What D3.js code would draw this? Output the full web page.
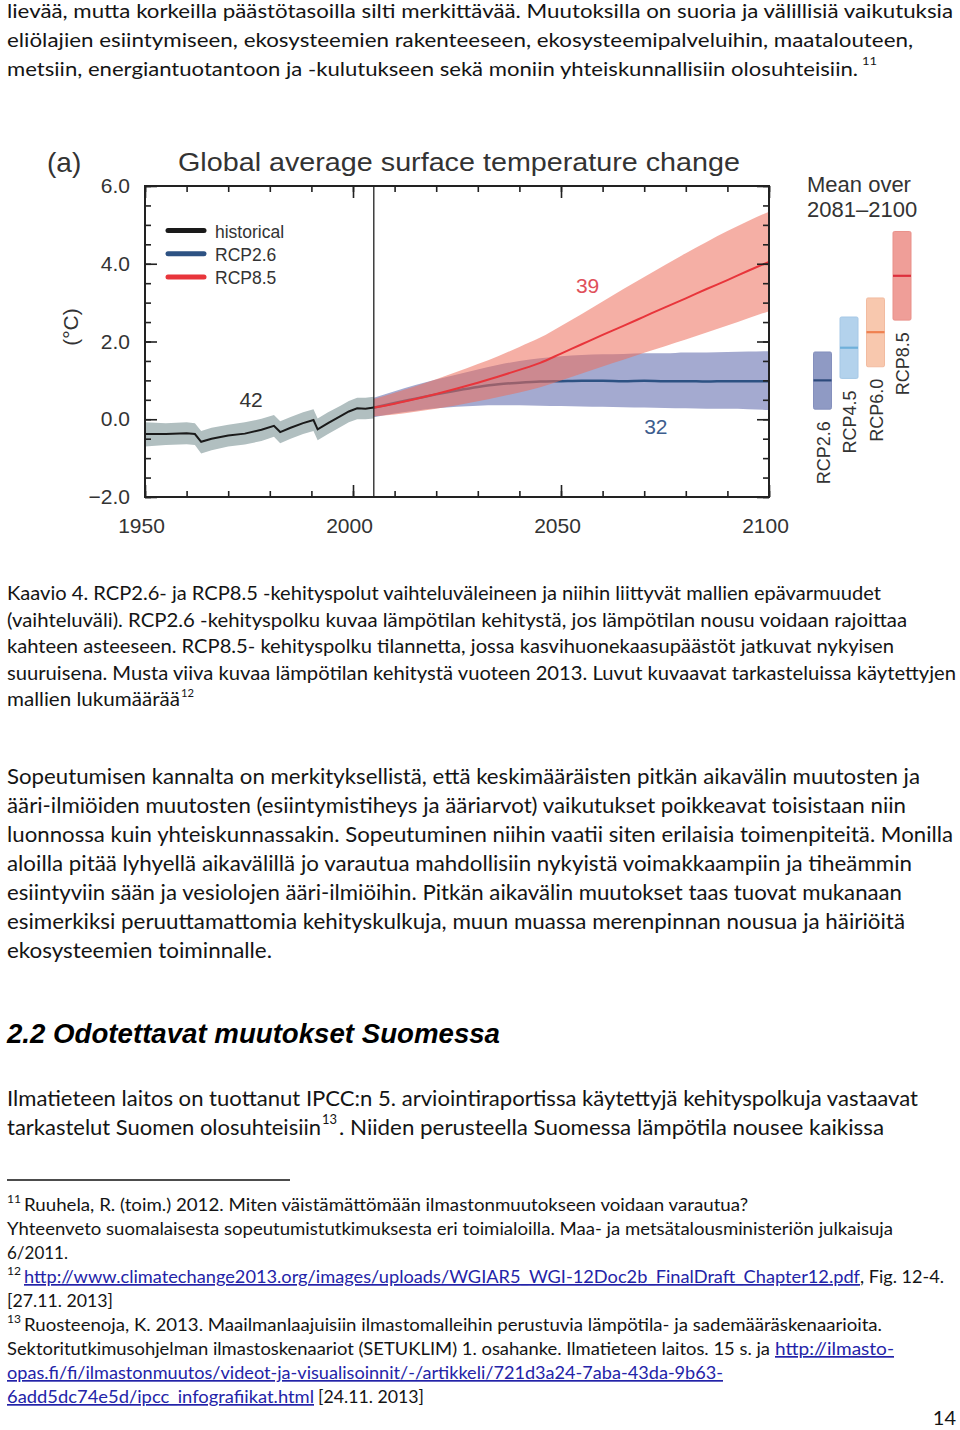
<!DOCTYPE html>
<html>
<head>
<meta charset="utf-8">
<script src="https://cdn.jsdelivr.net/npm/d3@7"></script>
<style>
  html, body { margin: 0; padding: 0; background: #fff; }
  svg { display: block; }
</style>
</head>
<body>
<script>
// ---------------- DATA ----------------
const histYears = [1950,1955,1960,1962,1963.5,1966,1970,1974,1978,1981,1982.5,1985,1988,1990.5,1991.5,1994,1997,1999,2001,2003,2005];
const histMean  = [-0.38,-0.38,-0.36,-0.38,-0.58,-0.50,-0.42,-0.37,-0.27,-0.17,-0.33,-0.22,-0.10,-0.02,-0.26,-0.10,0.08,0.20,0.28,0.27,0.30];
const histHigh  = [-0.08,-0.10,-0.08,-0.10,-0.30,-0.22,-0.14,-0.08,0.01,0.11,-0.05,0.06,0.18,0.26,0.02,0.18,0.35,0.47,0.55,0.55,0.58];
const histLow   = [-0.70,-0.66,-0.64,-0.66,-0.88,-0.80,-0.70,-0.65,-0.56,-0.45,-0.62,-0.50,-0.38,-0.30,-0.54,-0.38,-0.20,-0.08,0.00,0.00,0.02];

const projYears = [2005,2010,2015,2020,2025,2030,2035,2040,2045,2050,2055,2060,2065,2070,2075,2080,2085,2090,2095,2100];
const rcp26Mean = [0.30,0.42,0.53,0.64,0.74,0.83,0.90,0.94,0.97,0.98,0.99,0.99,0.98,0.99,0.98,0.98,0.97,0.98,0.98,0.98];
const rcp26High = [0.55,0.72,0.88,1.02,1.15,1.28,1.40,1.50,1.57,1.62,1.65,1.67,1.68,1.70,1.70,1.72,1.72,1.73,1.74,1.75];
const rcp26Low  = [0.05,0.15,0.22,0.28,0.32,0.35,0.36,0.36,0.35,0.34,0.33,0.32,0.31,0.30,0.29,0.28,0.27,0.27,0.26,0.24];
const rcp85Mean = [0.30,0.40,0.52,0.65,0.79,0.94,1.10,1.27,1.45,1.69,1.93,2.17,2.40,2.64,2.88,3.11,3.35,3.58,3.82,4.05];
const rcp85High = [0.52,0.68,0.85,1.03,1.22,1.42,1.63,1.86,2.10,2.40,2.71,3.03,3.35,3.66,3.97,4.27,4.56,4.84,5.10,5.34];
const rcp85Low  = [0.08,0.12,0.19,0.27,0.36,0.46,0.57,0.69,0.82,1.00,1.18,1.36,1.53,1.71,1.88,2.05,2.23,2.41,2.60,2.78];

const scenarios   = ["RCP2.6","RCP4.5","RCP6.0","RCP8.5"];
const scenLow     = [0.26,1.05,1.35,2.55];
const scenMean    = [1.00,1.84,2.24,3.69];
const scenHigh    = [1.73,2.63,3.12,4.83];

const yMajorTicks = [-2,0,2,4,6];
const xMajorTicks = [1950,2000,2050,2100];
const legendLabels = ["historical","RCP2.6","RCP8.5"];
const modelCounts  = ["42","39","32"];

// ---------------- PAGE ----------------
const svg = d3.select("body").append("svg").attr("width",960).attr("height",1430);

const BODY_FONT = "Lato, 'Open Sans', 'Noto Sans', sans-serif";
const CHART_FONT = "'Liberation Sans', Arial, Helvetica, sans-serif";

function line(x, y, s, size, len, opt = {}) {
  const t = svg.append("text")
    .attr("x", x).attr("y", y)
    .attr("font-family", opt.family || BODY_FONT)
    .attr("font-size", size)
    .attr("fill", opt.fill || "#141414")
    .text(s);
  if (opt.weight) t.attr("font-weight", opt.weight);
  if (opt.style) t.attr("font-style", opt.style);
  if (opt.underline) t.attr("text-decoration", "underline");
  if (opt.anchor) t.attr("text-anchor", opt.anchor);
  if (len) t.attr("textLength", len).attr("lengthAdjust", "spacingAndGlyphs");
  return t;
}
const LINK = "#2323a8";

// top paragraph
line(7, 18, "lievää, mutta korkeilla päästötasoilla silti merkittävää. Muutoksilla on suoria ja välillisiä vaikutuksia", 19.5, 946);
line(7, 47, "eliölajien esiintymiseen, ekosysteemien rakenteeseen, ekosysteemipalveluihin, maatalouteen,", 19.5, 906);
line(7, 76, "metsiin, energiantuotantoon ja -kulutukseen sekä moniin yhteiskunnallisiin olosuhteisiin.", 19.5, 851);
line(862, 65, "11", 12, 15);

// caption
line(7, 600, "Kaavio 4. RCP2.6- ja RCP8.5 -kehityspolut vaihteluväleineen ja niihin liittyvät mallien epävarmuudet", 19, 874);
line(7, 627, "(vaihteluväli). RCP2.6 -kehityspolku kuvaa lämpötilan kehitystä, jos lämpötilan nousu voidaan rajoittaa", 19, 900);
line(7, 653, "kahteen asteeseen. RCP8.5- kehityspolku tilannetta, jossa kasvihuonekaasupäästöt jatkuvat nykyisen", 19, 887);
line(7, 680, "suuruisena. Musta viiva kuvaa lämpötilan kehitystä vuoteen 2013. Luvut kuvaavat tarkasteluissa käytettyjen", 19, 949);
line(7, 706, "mallien lukumäärää", 19, 173);
line(181, 697, "12", 12, 13);

// paragraph
const para = [
  ["Sopeutumisen kannalta on merkityksellistä, että keskimääräisten pitkän aikavälin muutosten ja", 913],
  ["ääri-ilmiöiden muutosten (esiintymistiheys ja ääriarvot) vaikutukset poikkeavat toisistaan niin", 899],
  ["luonnossa kuin yhteiskunnassakin. Sopeutuminen niihin vaatii siten erilaisia toimenpiteitä. Monilla", 946],
  ["aloilla pitää lyhyellä aikavälillä jo varautua mahdollisiin nykyistä voimakkaampiin ja tiheämmin", 905],
  ["esiintyviin sään ja vesiolojen ääri-ilmiöihin. Pitkän aikavälin muutokset taas tuovat mukanaan", 895],
  ["esimerkiksi peruuttamattomia kehityskulkuja, muun muassa merenpinnan nousua ja häiriöitä", 898],
  ["ekosysteemien toiminnalle.", 265]
];
para.forEach((p, i) => line(7, 784 + i * 29, p[0], 22, p[1]));

// heading
line(7, 1043, "2.2 Odotettavat muutokset Suomessa", 28, 493, {family: CHART_FONT, weight: "bold", style: "italic", fill: "#000"});

// paragraph 2
line(7, 1106, "Ilmatieteen laitos on tuottanut IPCC:n 5. arviointiraportissa käytettyjä kehityspolkuja vastaavat", 22, 911);
line(7, 1135, "tarkastelut Suomen olosuhteisiin", 22, 314);
line(322, 1124, "13", 13, 15);
line(339, 1135, ".  Niiden perusteella Suomessa lämpötila nousee kaikissa", 22, 545);

// footnote rule
svg.append("line").attr("x1", 7).attr("x2", 290).attr("y1", 1180).attr("y2", 1180)
  .attr("stroke", "#111").attr("stroke-width", 1.5);

// footnotes
const FN = 17, fb = 1211, fs = 24;
line(7, fb - 8, "11", 11, 14);
line(24, fb, "Ruuhela, R. (toim.) 2012. Miten väistämättömään ilmastonmuutokseen voidaan varautua?", FN, 724);
line(7, fb + fs, "Yhteenveto suomalaisesta sopeutumistutkimuksesta eri toimialoilla. Maa- ja metsätalousministeriön julkaisuja", FN, 886);
line(7, fb + 2 * fs, "6/2011.", FN, 61);
line(7, fb + 3 * fs - 8, "12", 11, 14);
line(24, fb + 3 * fs, "http://www.climatechange2013.org/images/uploads/WGIAR5_WGI-12Doc2b_FinalDraft_Chapter12.pdf", FN, 836, {fill: LINK, underline: true});
line(860, fb + 3 * fs, ", Fig. 12-4.", FN, 84);
line(7, fb + 4 * fs, "[27.11. 2013]", FN, 106);
line(7, fb + 5 * fs - 8, "13", 11, 14);
line(24, fb + 5 * fs, "Ruosteenoja, K. 2013. Maailmanlaajuisiin ilmastomalleihin perustuvia lämpötila- ja sademääräskenaarioita.", FN, 858);
line(7, fb + 6 * fs, "Sektoritutkimusohjelman ilmastoskenaariot (SETUKLIM) 1. osahanke. Ilmatieteen laitos. 15 s. ja", FN, 763);
line(775, fb + 6 * fs, "http://ilmasto-", FN, 119, {fill: LINK, underline: true});
line(7, fb + 7 * fs, "opas.fi/fi/ilmastonmuutos/videot-ja-visualisoinnit/-/artikkeli/721d3a24-7aba-43da-9b63-", FN, 716, {fill: LINK, underline: true});
line(7, fb + 8 * fs, "6add5dc74e5d/ipcc_infografiikat.html", FN, 307, {fill: LINK, underline: true});
line(318, fb + 8 * fs, "[24.11. 2013]", FN, 106);
line(956, 1425, "14", 20, null, {anchor: "end"});

// ---------------- CHART ----------------
const x = d3.scaleLinear().domain([1950, 2100]).range([145, 769]);
const y = d3.scaleLinear().domain([-2, 6]).range([497, 186]);
const chart = svg.append("g");
const TXT = "#333";

// title
chart.append("text").attr("x", 47).attr("y", 172).attr("font-family", CHART_FONT)
  .attr("font-size", 28).attr("fill", TXT).text("(a)");
chart.append("text").attr("x", 178).attr("y", 171).attr("font-family", CHART_FONT)
  .attr("font-size", 26).attr("fill", TXT).attr("textLength", 562).attr("lengthAdjust", "spacingAndGlyphs")
  .text("Global average surface temperature change");

// bands
const area = (xs, lo, hi, curve) => d3.area().curve(curve)
  .x((d, i) => x(xs[i])).y0((d, i) => y(lo[i])).y1((d, i) => y(hi[i]))(xs);
const ln = (xs, v, curve) => d3.line().curve(curve).x((d, i) => x(xs[i])).y((d, i) => y(v[i]))(xs);

chart.append("path").attr("d", area(histYears, histLow, histHigh, d3.curveLinear)).attr("fill", "#b1bfc0");
chart.append("path").attr("d", area(projYears, rcp26Low, rcp26High, d3.curveMonotoneX)).attr("fill", "#a4aad0");
chart.append("path").attr("d", ln(projYears, rcp26Mean, d3.curveMonotoneX)).attr("fill", "none").attr("stroke", "#2d5283").attr("stroke-width", 2.5);
chart.append("path").attr("d", area(projYears, rcp85Low, rcp85High, d3.curveMonotoneX)).attr("fill", "rgb(237,110,91)").attr("fill-opacity", 0.55);
chart.append("path").attr("d", ln(projYears, rcp85Mean, d3.curveMonotoneX)).attr("fill", "none").attr("stroke", "#e8353b").attr("stroke-width", 2);
chart.append("path").attr("d", ln(histYears, histMean, d3.curveLinear)).attr("fill", "none").attr("stroke", "#1a1a1a").attr("stroke-width", 2);

// frame & 2005 line
chart.append("rect").attr("x", x(1950)).attr("y", y(6)).attr("width", x(2100) - x(1950)).attr("height", y(-2) - y(6))
  .attr("fill", "none").attr("stroke", "#222").attr("stroke-width", 2);
chart.append("line").attr("x1", x(2005)).attr("x2", x(2005)).attr("y1", y(6)).attr("y2", y(-2))
  .attr("stroke", "#222").attr("stroke-width", 1.3);

// axes (ticks inside)
function styleAxis(g) {
  g.select(".domain").remove();
  g.selectAll(".tick line").attr("stroke", "#222").attr("stroke-width", 1.6);
  g.selectAll("text").attr("font-family", CHART_FONT).attr("fill", TXT);
}
const yMinor = d3.range(-2, 6.01, 0.5);
const xMinor = d3.range(1950, 2100.1, 10);
// left
chart.append("g").attr("transform", `translate(${x(1950)},0)`)
  .call(d3.axisLeft(y).tickValues(yMinor).tickSize(-6).tickFormat("")).call(styleAxis);
chart.append("g").attr("transform", `translate(${x(1950)},0)`)
  .call(d3.axisLeft(y).tickValues(yMajorTicks).tickSize(-12).tickPadding(15).tickFormat(d3.format(".1f")))
  .call(styleAxis).call(g => g.selectAll("text").attr("font-size", 21));
// right
chart.append("g").attr("transform", `translate(${x(2100)},0)`)
  .call(d3.axisRight(y).tickValues(yMinor).tickSize(-6).tickFormat("")).call(styleAxis);
chart.append("g").attr("transform", `translate(${x(2100)},0)`)
  .call(d3.axisRight(y).tickValues(yMajorTicks).tickSize(-12).tickFormat("")).call(styleAxis);
// bottom
chart.append("g").attr("transform", `translate(0,${y(-2)})`)
  .call(d3.axisBottom(x).tickValues(xMinor).tickSize(-6).tickFormat("")).call(styleAxis);
chart.append("g").attr("transform", `translate(0,${y(-2)})`)
  .call(d3.axisBottom(x).tickValues(xMajorTicks).tickSize(-12).tickPadding(21).tickFormat(d3.format("d")))
  .call(styleAxis).call(g => g.selectAll("text").attr("font-size", 21).attr("dx", -4));
// top
chart.append("g").attr("transform", `translate(0,${y(6)})`)
  .call(d3.axisTop(x).tickValues(xMinor).tickSize(-6).tickFormat("")).call(styleAxis);
chart.append("g").attr("transform", `translate(0,${y(6)})`)
  .call(d3.axisTop(x).tickValues(xMajorTicks).tickSize(-12).tickFormat("")).call(styleAxis);

// y label
chart.append("text").attr("transform", "translate(78,327) rotate(-90)").attr("text-anchor", "middle")
  .attr("font-family", CHART_FONT).attr("font-size", 21).attr("fill", TXT).text("(°C)");

// legend
const legendColors = ["#1a1a1a", "#2d5283", "#e8353b"];
legendLabels.forEach((lab, i) => {
  const ly = 230.5 + i * 23.3;
  chart.append("line").attr("x1", 168).attr("x2", 204).attr("y1", ly).attr("y2", ly)
    .attr("stroke", legendColors[i]).attr("stroke-width", 5).attr("stroke-linecap", "round");
  chart.append("text").attr("x", 215).attr("y", ly + 7).attr("font-family", CHART_FONT)
    .attr("font-size", 17.5).attr("fill", TXT).text(lab);
});

// model counts
chart.append("text").attr("x", x(1975.5)).attr("y", 407).attr("text-anchor", "middle")
  .attr("font-family", CHART_FONT).attr("font-size", 21).attr("fill", TXT).text(modelCounts[0]);
chart.append("text").attr("x", x(2056.4)).attr("y", 293).attr("text-anchor", "middle")
  .attr("font-family", CHART_FONT).attr("font-size", 21).attr("fill", "#e0505a").text(modelCounts[1]);
chart.append("text").attr("x", x(2072.8)).attr("y", 434).attr("text-anchor", "middle")
  .attr("font-family", CHART_FONT).attr("font-size", 21).attr("fill", "#3d5d8e").text(modelCounts[2]);

// right panel: mean over 2081-2100
chart.append("text").attr("x", 807).attr("y", 192).attr("font-family", CHART_FONT)
  .attr("font-size", 22).attr("fill", TXT).text("Mean over");
chart.append("text").attr("x", 807).attr("y", 217).attr("font-family", CHART_FONT)
  .attr("font-size", 22).attr("fill", TXT).text("2081–2100");

const xs = d3.scalePoint().domain(scenarios).range([822.5, 902]);
const barFill   = ["#8f9ac4", "#b3d2ec", "#f8c8ae", "#ef9e98"];
const barStroke = ["#8590bd", "#a6c8e6", "#f2bba0", "#e99089"];
const barLine   = ["#2d4a7b", "#6fb0da", "#ef8150", "#dd2f3c"];
const BW = 18;
scenarios.forEach((s, i) => {
  const cx = xs(s);
  chart.append("rect").attr("x", cx - BW / 2).attr("y", y(scenHigh[i])).attr("width", BW)
    .attr("height", y(scenLow[i]) - y(scenHigh[i])).attr("rx", 1.5)
    .attr("fill", barFill[i]).attr("stroke", barStroke[i]).attr("stroke-width", 1);
  chart.append("line").attr("x1", cx - BW / 2).attr("x2", cx + BW / 2)
    .attr("y1", y(scenMean[i])).attr("y2", y(scenMean[i]))
    .attr("stroke", barLine[i]).attr("stroke-width", 2.2);
  chart.append("text")
    .attr("transform", `translate(${cx + 7},${y(scenLow[i]) + 12}) rotate(-90)`)
    .attr("text-anchor", "end").attr("font-family", CHART_FONT).attr("font-size", 18)
    .attr("fill", TXT).text(s);
});
</script>
</body>
</html>
